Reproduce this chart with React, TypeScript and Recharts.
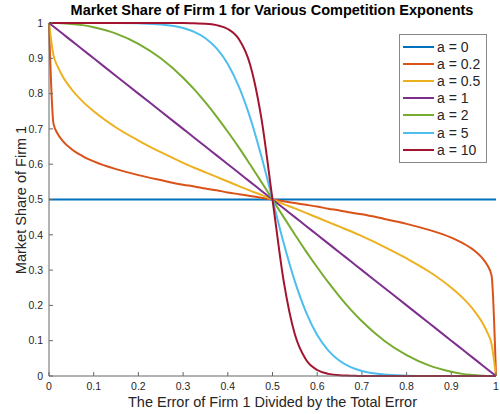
import React from 'react';
import { LineChart, Line, XAxis, YAxis } from 'recharts';

const xs = [0, 0.01, 0.02, 0.03, 0.05, 0.075, 0.1, 0.15, 0.2, 0.25, 0.3, 0.325, 0.35, 0.375, 0.4, 0.425, 0.45, 0.475, 0.5,
  0.525, 0.55, 0.575, 0.6, 0.625, 0.65, 0.675, 0.7, 0.75, 0.8, 0.85, 0.9, 0.925, 0.95, 0.97, 0.98, 0.99, 1];

const a0 = [0.5, 0.5, 0.5, 0.5, 0.5, 0.5, 0.5, 0.5, 0.5, 0.5, 0.5, 0.5, 0.5, 0.5, 0.5, 0.5, 0.5, 0.5, 0.5,
  0.5, 0.5, 0.5, 0.5, 0.5, 0.5, 0.5, 0.5, 0.5, 0.5, 0.5, 0.5, 0.5, 0.5, 0.5, 0.5, 0.5, 0.5];
const a02 = [1, 0.715, 0.685, 0.667, 0.643, 0.623, 0.608, 0.586, 0.569, 0.555, 0.542, 0.537, 0.531, 0.526, 0.52, 0.515, 0.51, 0.505, 0.5,
  0.495, 0.49, 0.485, 0.48, 0.474, 0.469, 0.463, 0.458, 0.445, 0.431, 0.414, 0.392, 0.377, 0.357, 0.333, 0.315, 0.285, 0];
const a05 = [1, 0.909, 0.875, 0.85, 0.813, 0.778, 0.75, 0.704, 0.667, 0.634, 0.604, 0.59, 0.577, 0.564, 0.551, 0.538, 0.525, 0.513, 0.5,
  0.487, 0.475, 0.462, 0.449, 0.436, 0.423, 0.41, 0.396, 0.366, 0.333, 0.296, 0.25, 0.222, 0.187, 0.15, 0.125, 0.091, 0];
const a1 = [1, 0.99, 0.98, 0.97, 0.95, 0.925, 0.9, 0.85, 0.8, 0.75, 0.7, 0.675, 0.65, 0.625, 0.6, 0.575, 0.55, 0.525, 0.5,
  0.475, 0.45, 0.425, 0.4, 0.375, 0.35, 0.325, 0.3, 0.25, 0.2, 0.15, 0.1, 0.075, 0.05, 0.03, 0.02, 0.01, 0];
const a2 = [1, 1, 1, 0.999, 0.997, 0.994, 0.988, 0.97, 0.941, 0.9, 0.845, 0.812, 0.775, 0.735, 0.692, 0.647, 0.599, 0.55, 0.5,
  0.45, 0.401, 0.353, 0.308, 0.265, 0.225, 0.188, 0.155, 0.1, 0.059, 0.03, 0.012, 0.006, 0.003, 0.001, 0, 0, 0];
const a5 = [1, 1, 1, 1, 1, 1, 1, 1, 0.999, 0.996, 0.986, 0.975, 0.957, 0.928, 0.884, 0.819, 0.732, 0.623, 0.5,
  0.377, 0.268, 0.181, 0.116, 0.072, 0.043, 0.025, 0.014, 0.004, 0.001, 0, 0, 0, 0, 0, 0, 0, 0];
const a10 = [1, 1, 1, 1, 1, 1, 1, 1, 1, 1, 1, 0.999, 0.998, 0.994, 0.983, 0.954, 0.882, 0.731, 0.5,
  0.269, 0.118, 0.046, 0.017, 0.006, 0.002, 0.001, 0, 0, 0, 0, 0, 0, 0, 0, 0, 0, 0];

const xTicks = [0, 0.1, 0.2, 0.3, 0.4, 0.5, 0.6, 0.7, 0.8, 0.9, 1];
const yTicks = [0, 0.1, 0.2, 0.3, 0.4, 0.5, 0.6, 0.7, 0.8, 0.9, 1];

const seriesNames = ['a = 0', 'a = 0.2', 'a = 0.5', 'a = 1', 'a = 2', 'a = 5', 'a = 10'];
const seriesKeys = ['s0', 's02', 's05', 's1', 's2', 's5', 's10'];
const seriesValues = [a0, a02, a05, a1, a2, a5, a10];
const colors = ['#0072BD', '#D95319', '#EDB120', '#7E2F8E', '#77AC30', '#4DBEEE', '#A2142F'];

const data = xs.map((x, i) => {
  const row: Record<string, number> = { x };
  seriesKeys.forEach((k, j) => { row[k] = seriesValues[j][i]; });
  return row;
});

const fmt = (v: number) => String(Math.round(v * 10) / 10);
const font = 'Liberation Sans, Arial, sans-serif';

const LegendBox = () => (
  <div style={{ position: 'absolute', left: 399, top: 34, width: 86, height: 124, border: '1px solid #888', background: '#fff', boxSizing: 'content-box', fontFamily: font, fontSize: 14, color: '#262626', paddingTop: 3 }}>
    {seriesNames.map((n, i) => (
      <div key={n} style={{ display: 'flex', alignItems: 'center', height: 17.2 }}>
        <svg width={31} height={4} style={{ marginLeft: 3, marginRight: 3 }}>
          <line x1={0} y1={2} x2={31} y2={2} stroke={colors[i]} strokeWidth={2} />
        </svg>
        <span>{n}</span>
      </div>
    ))}
  </div>
);

export default function App() {
  return (
    <div style={{ position: 'absolute', left: 0, top: 0, width: 500, height: 414, background: '#fff' }}>
      <div style={{ position: 'absolute', left: 0, top: 2, width: 544, textAlign: 'center', fontFamily: font, fontWeight: 'bold', fontSize: 14.5, color: '#000' }}>
        Market Share of Firm 1 for Various Competition Exponents
      </div>
      <LineChart width={500} height={414} data={data} margin={{ top: 23, right: 4, bottom: 0, left: 9 }}>
        <XAxis dataKey="x" type="number" domain={[0, 1]} ticks={xTicks} tickFormatter={fmt}
          tickSize={-4} tickMargin={11} height={38} stroke="#666"
          tick={{ fill: '#262626', fontSize: 10.5, fontFamily: font }} interval={0} />
        <YAxis type="number" domain={[0, 1]} ticks={yTicks} tickFormatter={fmt}
          tickSize={-4} tickMargin={10} width={40} stroke="#666"
          tick={{ fill: '#262626', fontSize: 10.5, fontFamily: font }} interval={0} />
        {seriesKeys.map((k, i) => (
          <Line key={k} dataKey={k} name={seriesNames[i]} stroke={colors[i]} strokeWidth={2}
            dot={false} type="monotone" isAnimationActive={false} />
        ))}
      </LineChart>
      <LegendBox />
      <div style={{ position: 'absolute', left: 49, top: 394, width: 447, textAlign: 'center', fontFamily: font, fontSize: 14.5, color: '#262626' }}>
        The Error of Firm 1 Divided by the Total Error
      </div>
      <div style={{ position: 'absolute', left: 21, top: 200, transform: 'translate(-50%, -50%) rotate(-90deg)', whiteSpace: 'nowrap', fontFamily: font, fontSize: 14.5, color: '#262626' }}>
        Market Share of Firm 1
      </div>
    </div>
  );
}
